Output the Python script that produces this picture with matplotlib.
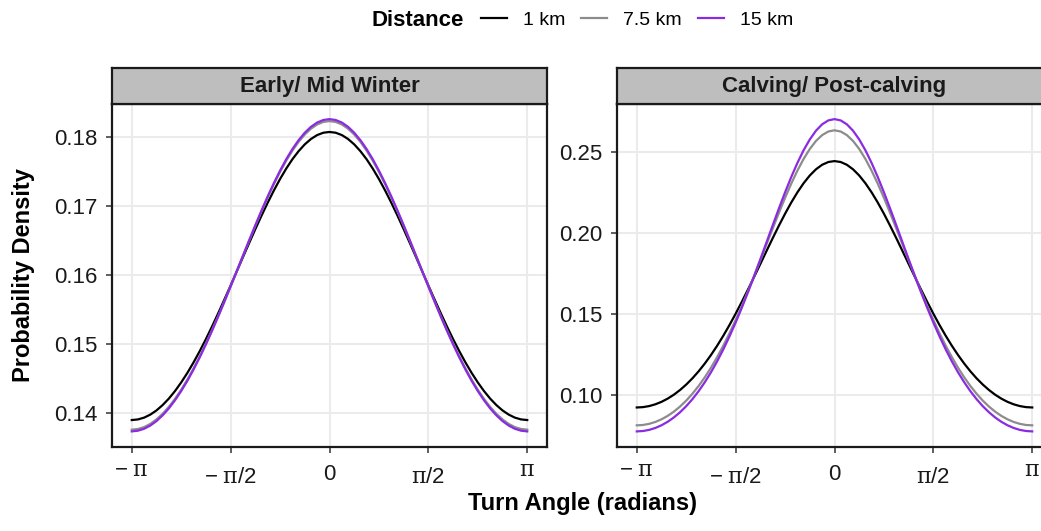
import numpy as np
import matplotlib
matplotlib.use("Agg")
from matplotlib import pyplot as plt
import matplotlib.transforms as mtransforms

plt.rcParams['font.family'] = ['Liberation Sans', 'DejaVu Sans']
plt.rcParams['mathtext.fontset'] = 'custom'
plt.rcParams['mathtext.rm'] = 'Liberation Sans'
plt.rcParams['mathtext.it'] = 'DejaVu Serif'
plt.rcParams['mathtext.bf'] = 'Liberation Sans:bold'

# turn angle samples, -pi .. pi in steps of pi/32
angle = np.linspace(-np.pi, np.pi, 65)

# probability density
winter_1km = [0.13891, 0.13900, 0.13926, 0.13970, 0.14031, 0.14109, 0.14203, 0.14313, 0.14438,
              0.14577, 0.14729, 0.14893, 0.15068, 0.15253, 0.15446, 0.15645, 0.15848,
              0.16054, 0.16261, 0.16466, 0.16668, 0.16864, 0.17052, 0.17230, 0.17396,
              0.17548, 0.17684, 0.17801, 0.17900, 0.17978, 0.18035, 0.18069, 0.18080,
              0.18069, 0.18035, 0.17978, 0.17900, 0.17801, 0.17684, 0.17548, 0.17396,
              0.17230, 0.17052, 0.16864, 0.16668, 0.16466, 0.16261, 0.16054, 0.15848,
              0.15645, 0.15446, 0.15253, 0.15068, 0.14893, 0.14729, 0.14577, 0.14438,
              0.14313, 0.14203, 0.14109, 0.14031, 0.13970, 0.13926, 0.13900, 0.13891]
winter_7km = [0.13751, 0.13761, 0.13788, 0.13835, 0.13900, 0.13982, 0.14082, 0.14199, 0.14332,
              0.14480, 0.14642, 0.14817, 0.15004, 0.15200, 0.15406, 0.15619, 0.15837,
              0.16057, 0.16279, 0.16499, 0.16716, 0.16927, 0.17129, 0.17321, 0.17499,
              0.17663, 0.17809, 0.17937, 0.18043, 0.18128, 0.18189, 0.18226, 0.18238,
              0.18226, 0.18189, 0.18128, 0.18043, 0.17937, 0.17809, 0.17663, 0.17499,
              0.17321, 0.17129, 0.16927, 0.16716, 0.16499, 0.16279, 0.16057, 0.15837,
              0.15619, 0.15406, 0.15200, 0.15004, 0.14817, 0.14642, 0.14480, 0.14332,
              0.14199, 0.14082, 0.13982, 0.13900, 0.13835, 0.13788, 0.13761, 0.13751]
winter_15km = [0.13726, 0.13736, 0.13764, 0.13811, 0.13876, 0.13960, 0.14060, 0.14179, 0.14313,
               0.14462, 0.14626, 0.14803, 0.14992, 0.15191, 0.15399, 0.15614, 0.15835,
               0.16058, 0.16282, 0.16505, 0.16725, 0.16938, 0.17143, 0.17337, 0.17518,
               0.17684, 0.17832, 0.17961, 0.18069, 0.18155, 0.18217, 0.18254, 0.18267,
               0.18254, 0.18217, 0.18155, 0.18069, 0.17961, 0.17832, 0.17684, 0.17518,
               0.17337, 0.17143, 0.16938, 0.16725, 0.16505, 0.16282, 0.16058, 0.15835,
               0.15614, 0.15399, 0.15191, 0.14992, 0.14803, 0.14626, 0.14462, 0.14313,
               0.14179, 0.14060, 0.13960, 0.13876, 0.13811, 0.13764, 0.13736, 0.13726]

calving_1km = [0.09217, 0.09238, 0.09303, 0.09412, 0.09565, 0.09763, 0.10006, 0.10296, 0.10632,
               0.11016, 0.11447, 0.11927, 0.12454, 0.13028, 0.13647, 0.14309, 0.15010,
               0.15745, 0.16508, 0.17292, 0.18089, 0.18889, 0.19681, 0.20452, 0.21190,
               0.21883, 0.22515, 0.23076, 0.23553, 0.23936, 0.24216, 0.24387, 0.24444,
               0.24387, 0.24216, 0.23936, 0.23553, 0.23076, 0.22515, 0.21883, 0.21190,
               0.20452, 0.19681, 0.18889, 0.18089, 0.17292, 0.16508, 0.15745, 0.15010,
               0.14309, 0.13647, 0.13028, 0.12454, 0.11927, 0.11447, 0.11016, 0.10632,
               0.10296, 0.10006, 0.09763, 0.09565, 0.09412, 0.09303, 0.09238, 0.09217]
calving_7km = [0.08113, 0.08135, 0.08205, 0.08321, 0.08485, 0.08697, 0.08959, 0.09273, 0.09640,
               0.10062, 0.10540, 0.11075, 0.11670, 0.12322, 0.13033, 0.13800, 0.14620,
               0.15489, 0.16400, 0.17346, 0.18316, 0.19299, 0.20279, 0.21243, 0.22173,
               0.23050, 0.23857, 0.24577, 0.25192, 0.25688, 0.26050, 0.26273, 0.26346,
               0.26273, 0.26050, 0.25688, 0.25192, 0.24577, 0.23857, 0.23050, 0.22173,
               0.21243, 0.20279, 0.19299, 0.18316, 0.17346, 0.16400, 0.15489, 0.14620,
               0.13800, 0.13033, 0.12322, 0.11670, 0.11075, 0.10540, 0.10062, 0.09640,
               0.09273, 0.08959, 0.08697, 0.08485, 0.08321, 0.08205, 0.08135, 0.08113]
calving_15km = [0.07739, 0.07762, 0.07832, 0.07950, 0.08117, 0.08332, 0.08600, 0.08920, 0.09295,
                0.09728, 0.10219, 0.10772, 0.11386, 0.12064, 0.12804, 0.13605, 0.14466,
                0.15380, 0.16343, 0.17346, 0.18378, 0.19427, 0.20477, 0.21512, 0.22512,
                0.23460, 0.24333, 0.25114, 0.25781, 0.26321, 0.26717, 0.26958, 0.27038,
                0.26958, 0.26717, 0.26321, 0.25781, 0.25114, 0.24333, 0.23460, 0.22512,
                0.21512, 0.20477, 0.19427, 0.18378, 0.17346, 0.16343, 0.15380, 0.14466,
                0.13605, 0.12804, 0.12064, 0.11386, 0.10772, 0.10219, 0.09728, 0.09295,
                0.08920, 0.08600, 0.08332, 0.08117, 0.07950, 0.07832, 0.07762, 0.07739]

distances = ['1 km', '7.5 km', '15 km']
colors = ['black', '#8c8c8c', '#8a2be2']
panels = ['Early/ Mid Winter', 'Calving/ Post-calving']
panel_data = [[winter_1km, winter_7km, winter_15km],
              [calving_1km, calving_7km, calving_15km]]
y_ticks = [[0.14, 0.15, 0.16, 0.17, 0.18], [0.10, 0.15, 0.20, 0.25]]
x_ticks = [-np.pi, -np.pi / 2, 0, np.pi / 2, np.pi]
x_tick_labels = [r'$-\;\pi$', r'$-\;\pi/2$', r'$0$', r'$\pi/2$', r'$\pi$']

W, H = 1041, 531
fig = plt.figure(figsize=(W / 100, H / 100), dpi=100)

panel_left = [112, 617]
panel_w = 435
panel_top, panel_bot = 103.5, 447
strip_top = 68

axes = []
for i, name in enumerate(panels):
    ax = fig.add_axes([panel_left[i] / W, 1 - panel_bot / H, panel_w / W, (panel_bot - panel_top) / H])
    for vals, col, lab in zip(panel_data[i], colors, distances):
        ax.plot(angle, vals, color=col, lw=1.6, label=lab)
    ax.set_xticks(x_ticks)
    ax.set_xticklabels(x_tick_labels)
    ax.set_yticks(y_ticks[i])
    ax.set_yticklabels(['{:.2f}'.format(v) for v in y_ticks[i]])
    ax.margins(x=0.05, y=0.05)
    ax.grid(True, color='#ebebeb', lw=1.5)
    ax.set_axisbelow(True)
    ax.tick_params(axis='both', labelsize=16, length=4, width=1.1, color='#333333', labelcolor='#1a1a1a')
    ax.tick_params(axis='x', pad=8.5)
    ax.tick_params(axis='y', pad=6.5)
    for s in ax.spines.values():
        s.set_linewidth(1.6)
        s.set_color('#1a1a1a')
    # ggplot puts the bare pi labels a little higher than the pi/2 ones
    for lab in ax.get_xticklabels():
        txt = lab.get_text()
        if txt in (r'$-\;\pi$', r'$\pi$'):
            dy = 4
        elif '/' in txt:
            dy = -3
        else:
            dy = 0
        lab.set_transform(lab.get_transform() + mtransforms.ScaledTranslation(0, dy / 100, fig.dpi_scale_trans))
    axes.append(ax)

    # facet strip
    sax = fig.add_axes([panel_left[i] / W, 1 - panel_top / H, panel_w / W, (panel_top - strip_top) / H])
    sax.set_facecolor('#bebebe')
    sax.set_xticks([])
    sax.set_yticks([])
    for s in sax.spines.values():
        s.set_linewidth(1.6)
        s.set_color('#1a1a1a')
    sax.text(0.5, 0.47, name, ha='center', va='center', fontsize=16, fontweight='bold',
             color='#1a1a1a', transform=sax.transAxes)

# legend across the top
fig.text(464 / W, 1 - 20 / H, 'Distance', ha='right', va='center', fontsize=16, fontweight='bold')
handles, labels = axes[0].get_legend_handles_labels()
fig.legend(handles, labels, loc='center left', bbox_to_anchor=(481 / W, 1 - 20 / H), ncol=3,
           frameon=False, fontsize=14, handlelength=1.34, handletextpad=0.82, columnspacing=0.82,
           borderpad=0, borderaxespad=0)

fig.text(24 / W, 1 - 275 / H, 'Probability Density', rotation=90, ha='center', va='center',
         fontsize=17, fontweight='bold')
fig.text(583 / W, 1 - 510 / H, 'Turn Angle (radians)', ha='center', va='baseline',
         fontsize=17, fontweight='bold')

fig.savefig('out.png', dpi=100)
